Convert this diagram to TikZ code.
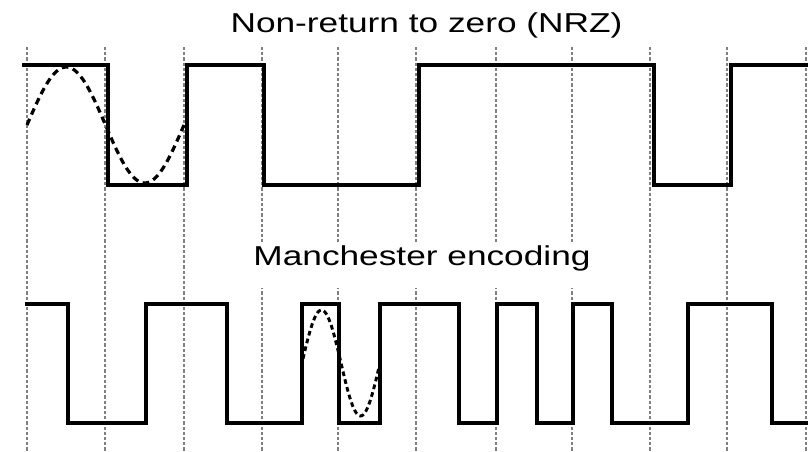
\documentclass[tikz,border=0pt]{standalone}
\usepackage{fontspec}
\setmainfont{Liberation Sans}
\begin{document}
\begin{tikzpicture}[x=0.75pt,y=-0.75pt,
  gridline/.style={black!50,line width=1.5pt,dash pattern=on 2.4pt off 1.5pt},
  signal/.style={black,line width=2.7pt,line join=miter},
  sinewave/.style={black,line width=2.4pt,dash pattern=on 5pt off 3.5pt},
  smallsine/.style={black,line width=2.2pt,dash pattern=on 3.5pt off 2.5pt},
  lbl/.style={font=\fontsize{20.5}{24}\selectfont,xscale=1.29,inner sep=0pt,text=black}]
\fill[white] (0,0) rectangle (808,451);
\useasboundingbox (0,0) rectangle (808,451);
% dotted bit boundaries
\foreach \gx in {27,105,184,262,338,416,496,572,650,727,806}
  \draw[gridline] (\gx,47) -- (\gx,451);
% gap behind the lower title
\fill[white] (248,242) rectangle (598,288);
% titles
\node[lbl,anchor=base] (nrz) at (426.5,32) {Non-return to zero (NRZ)};
\node[lbl,anchor=base] (man) at (422,265) {Manchester encoding};
% NRZ waveform
\draw[signal] (22,65) -- (108,65) -- (108,185) -- (187,185) -- (187,65)
  -- (264,65) -- (264,185) -- (419,185) -- (419,65) -- (654,65)
  -- (654,185) -- (731,185) -- (731,65) -- (808,65);
\draw[sinewave] plot[domain=27:184,samples=80,smooth]
  (\x,{125-58*sin((\x-27)*2.29299)});
% Manchester waveform
\draw[signal] (25,304) -- (68,304) -- (68,423) -- (146,423) -- (146,304)
  -- (227,304) -- (227,423) -- (302,423) -- (302,304) -- (339,304)
  -- (339,423) -- (380,423) -- (380,304) -- (459,304) -- (459,423)
  -- (497,423) -- (497,304) -- (537,304) -- (537,423) -- (573,423)
  -- (573,304) -- (612,304) -- (612,423) -- (688,423) -- (688,304)
  -- (772,304) -- (772,423) -- (808,423);
\draw[smallsine] plot[domain=303:380,samples=60,smooth]
  (\x,{363-53*sin((\x-302)*4.61538)});
\end{tikzpicture}
\end{document}
